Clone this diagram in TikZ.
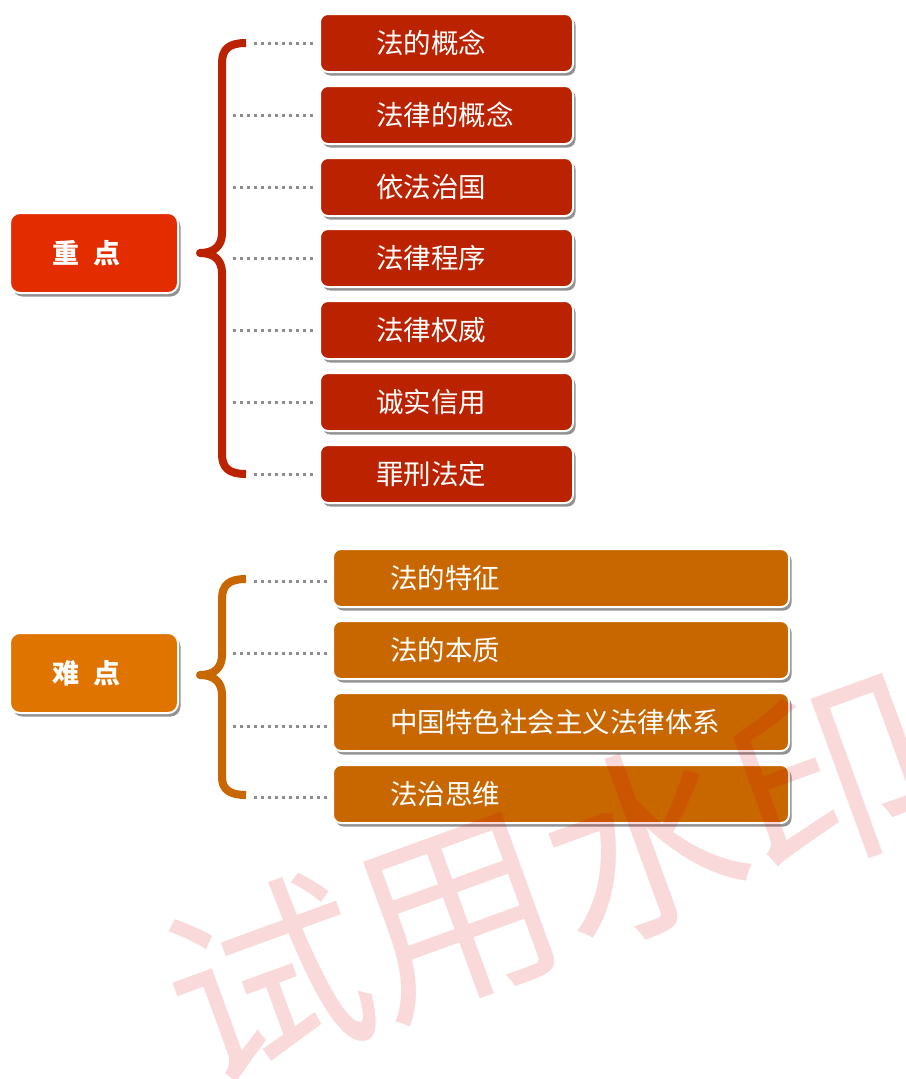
\documentclass[tikz,border=0pt]{standalone}
\usepackage{fontspec}
\setmainfont{Noto Sans CJK SC}
\usetikzlibrary{shadows}
\definecolor{mainred}{RGB}{227,44,0}
\definecolor{boxred}{RGB}{187,34,0}
\definecolor{mainorange}{RGB}{224,116,0}
\definecolor{boxorange}{RGB}{200,102,0}
\definecolor{dotgray}{RGB}{140,140,140}
\tikzset{
  x=1pt, y=-1pt,
  shadowed/.style={drop shadow={shadow xshift=2.5pt, shadow yshift=-3.5pt, fill=black!50, opacity=0.85}},
  mainbox/.style={shadowed, draw=white, line width=2pt, rounded corners=10pt, minimum width=168pt, minimum height=80pt, inner sep=0pt, text=white, font=\fontsize{27}{31}\selectfont\bfseries},
  itembox/.style={shadowed, draw=white, line width=2pt, rounded corners=8pt, minimum height=58pt, inner sep=0pt, text=white, font=\fontsize{27.5}{32}\selectfont, anchor=west},
  redbox/.style={itembox, fill=boxred},
  orangebox/.style={itembox, fill=boxorange},
  brace/.style={line width=8pt, line cap=butt, line join=round},
  dotline/.style={dotgray, line width=3pt, dash pattern=on 3pt off 4pt},
}
\newcommand{\redtxt}[1]{\makebox[253pt][l]{\hspace*{56pt}#1}}
\newcommand{\oratxt}[1]{\makebox[456pt][l]{\hspace*{57pt}#1}}
\newcommand{\maintxt}[2]{\makebox[168pt][l]{\hspace*{42pt}#1\hspace{0.55em}#2}}
\begin{document}
\begin{tikzpicture}
\useasboundingbox (0,0) rectangle (905,1079);
\fill[white] (0,0) rectangle (905,1079);

% main nodes
\node[mainbox, fill=mainred] (zd) at (94,253) {\maintxt{重}{点}};
\node[mainbox, fill=mainorange] (nd) at (94,673) {\maintxt{难}{点}};

% red items
\node[redbox] (r1) at (319,43) {\redtxt{法的概念}};
\node[redbox] (r2) at (319,115) {\redtxt{法律的概念}};
\node[redbox] (r3) at (319,187) {\redtxt{依法治国}};
\node[redbox] (r4) at (319,258) {\redtxt{法律程序}};
\node[redbox] (r5) at (319,330) {\redtxt{法律权威}};
\node[redbox] (r6) at (319,402) {\redtxt{诚实信用}};
\node[redbox] (r7) at (319,474) {\redtxt{罪刑法定}};

% orange items
\node[orangebox] (o1) at (332,578) {\oratxt{法的特征}};
\node[orangebox] (o2) at (332,650) {\oratxt{法的本质}};
\node[orangebox] (o3) at (332,722) {\oratxt{中国特色社会主义法律体系}};
\node[orangebox] (o4) at (332,794) {\oratxt{法治思维}};

% braces
\draw[brace, boxred] (246,43) .. controls (229,43) and (222,49) .. (222,63) -- (222,233)
  .. controls (222,246) and (214,253) .. (200,253)
  .. controls (214,253) and (222,260) .. (222,273) -- (222,454)
  .. controls (222,468) and (229,474) .. (246,474);
\draw[brace, boxorange] (246,579) .. controls (229,579) and (222,585) .. (222,599) -- (222,655)
  .. controls (222,668) and (214,675) .. (200,675)
  .. controls (214,675) and (222,682) .. (222,695) -- (222,777)
  .. controls (222,789) and (229,795) .. (246,795);

% dotted connectors
\coordinate (c1) at (254,43);
\coordinate (c2) at (233,115);
\coordinate (c3) at (233,187);
\coordinate (c4) at (233,258);
\coordinate (c5) at (233,330);
\coordinate (c6) at (233,402);
\coordinate (c7) at (254,474);
\foreach \i in {1,...,7} {
  \draw[dotline] (c\i) -- ([xshift=-5pt]r\i.west);
}
\coordinate (d1) at (254,581);
\coordinate (d2) at (233,653);
\coordinate (d3) at (233,726);
\coordinate (d4) at (254,797);
\foreach \i in {1,...,4} {
  \draw[dotline] (d\i) -- ([xshift=-5pt]o\i.west |- d\i);
}

% watermark
\node[rotate=20, text=red!85!black, text opacity=0.15, font=\fontsize{200}{200}\selectfont, inner sep=0pt] (wm) at (550,878) {试用水印};
\end{tikzpicture}
\end{document}
